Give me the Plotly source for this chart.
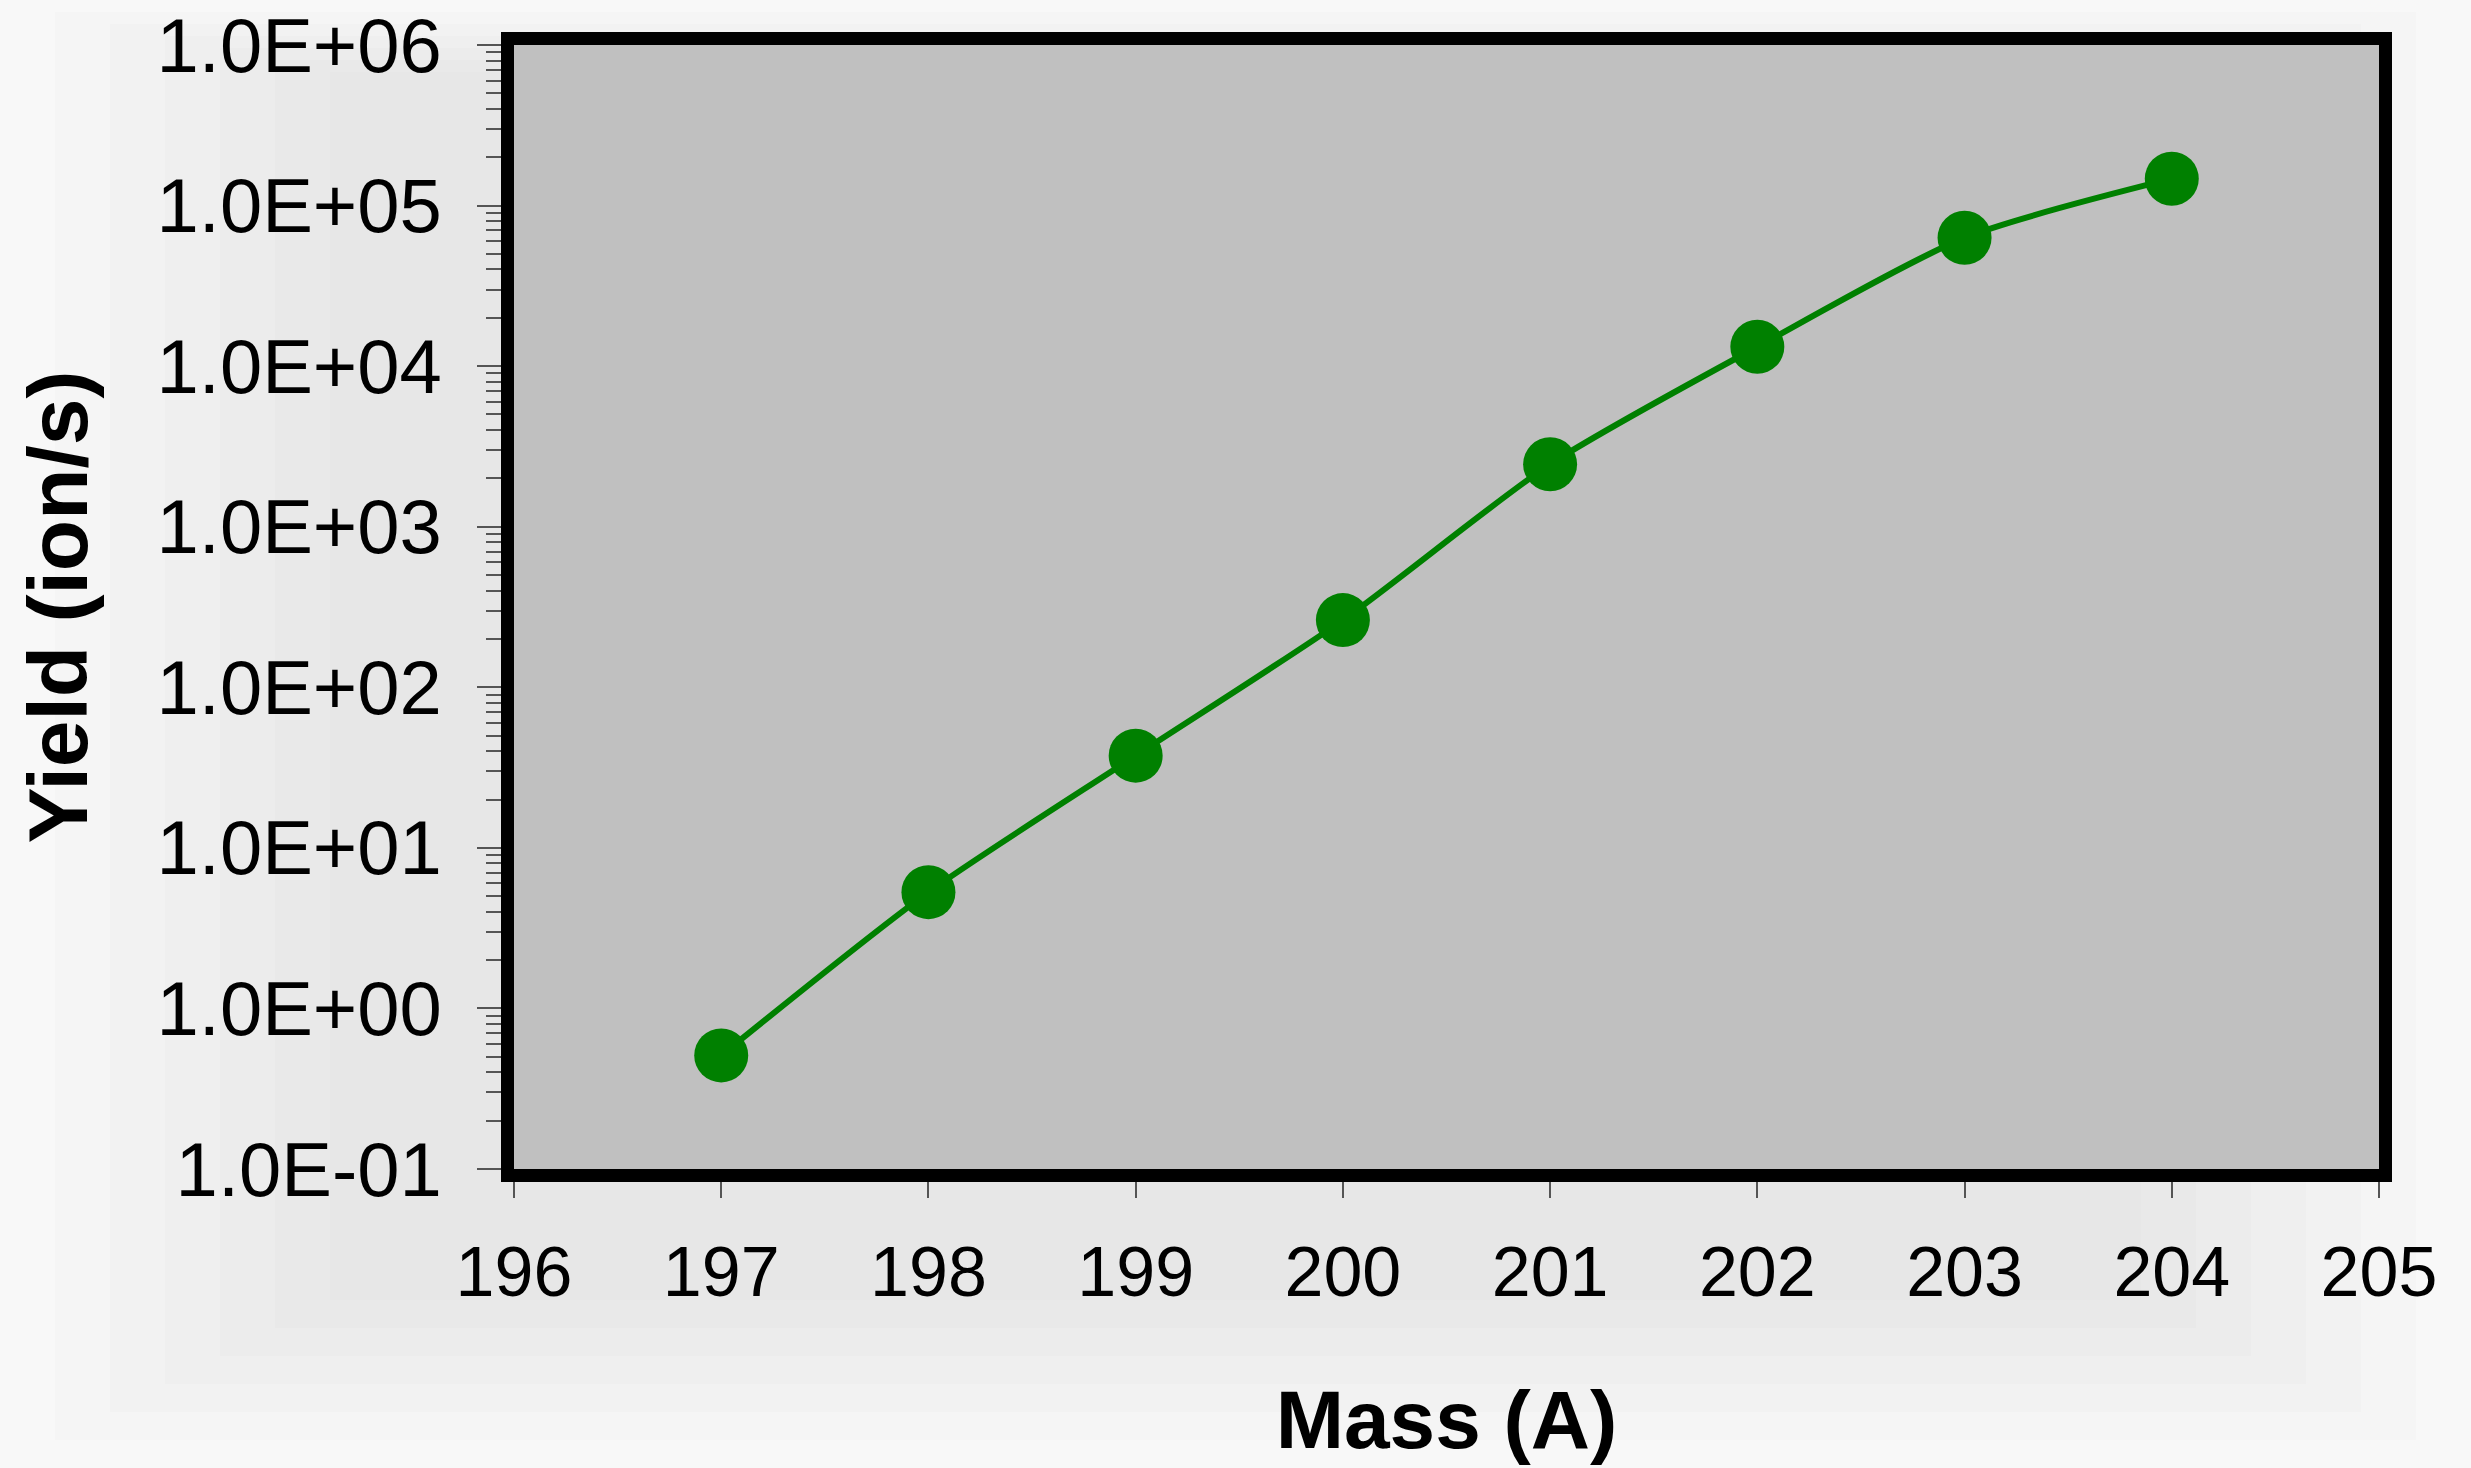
import plotly.graph_objects as go

# Data
mass = [197, 198, 199, 200, 201, 202, 203, 204]
yield_ions = [0.51, 5.3, 37.5, 262, 2450, 13200, 63000, 147000]

y_tickvals = [1e-1, 1e0, 1e1, 1e2, 1e3, 1e4, 1e5, 1e6]
y_ticktext = ["1.0E-01", "1.0E+00", "1.0E+01", "1.0E+02", "1.0E+03", "1.0E+04", "1.0E+05", "1.0E+06"]
x_tickvals = [196, 197, 198, 199, 200, 201, 202, 203, 204, 205]

W, H = 2471, 1468
L, R, T, B = 514, 92, 45, 299

fig = go.Figure()

fig.add_trace(go.Scatter(
    x=mass, y=yield_ions,
    mode="lines+markers",
    line=dict(color="#008000", width=6, shape="spline", smoothing=0.7),
    marker=dict(color="#008000", size=54, line=dict(width=0)),
    showlegend=False,
    cliponaxis=False,
))

# Background vignette (nested rectangles, lighter at edges)
pw = W - L - R
ph = H - T - B


def px_x(p):
    return (p - L) / pw


def px_y(p):
    return ((H - B) - p) / ph


steps = ["#f8f8f8", "#f5f5f5", "#f2f2f2", "#efefef", "#ececec", "#e9e9e9", "#e7e7e7"]
shapes = []
for i, c in enumerate(steps):
    ix = i * 55
    iy = i * 40
    shapes.append(dict(
        type="rect", xref="paper", yref="paper",
        x0=px_x(ix), x1=px_x(W - ix), y0=px_y(H - iy * 0.7), y1=px_y(iy * 0.3),
        fillcolor=c, line=dict(width=0), layer="below",
    ))
# plot area fill
shapes.append(dict(
    type="rect", xref="paper", yref="paper", x0=0, x1=1, y0=0, y1=1,
    fillcolor="#c0c0c0", line=dict(width=0), layer="below",
))

fig.update_layout(
    width=W, height=H,
    margin=dict(l=L, r=R, t=T, b=B, pad=0, autoexpand=False),
    paper_bgcolor="#f8f8f8",
    plot_bgcolor="#c0c0c0",
    font=dict(family="Liberation Sans, Arial, sans-serif", color="black"),
    shapes=shapes,
)

fig.update_xaxes(
    range=[196, 205],
    tickvals=x_tickvals,
    ticks="outside", ticklen=16, tickwidth=2, tickcolor="#555555",
    tickfont=dict(size=70),
    ticklabelstandoff=14,
    ticklabeloverflow="allow",
    automargin=False,
    showline=True, linewidth=13, linecolor="black", mirror=True,
    showgrid=False, zeroline=False,
    title=dict(text="<b>Mass (A)</b>", font=dict(size=82), standoff=86),
)

fig.update_yaxes(
    type="log",
    range=[-1, 6],
    tickvals=y_tickvals, ticktext=y_ticktext,
    ticks="outside", ticklen=24, tickwidth=2, tickcolor="#555555",
    minor=dict(ticks="outside", ticklen=15, tickwidth=2, tickcolor="#555555", dtick="D1", showgrid=False),
    tickfont=dict(size=76),
    ticklabelstandoff=20,
    ticklabeloverflow="allow",
    automargin=False,
    showline=True, linewidth=13, linecolor="black", mirror=True,
    showgrid=False, zeroline=False,
    title=dict(text="<b>Yield (ion/s)</b>", font=dict(size=84), standoff=47),
)

fig.write_html("out.html")
